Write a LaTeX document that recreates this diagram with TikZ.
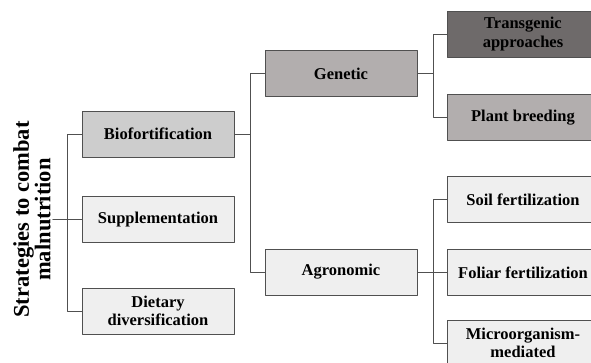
\documentclass[tikz,border=0pt]{standalone}
\usepackage{fontspec}
\setmainfont{Liberation Serif}

\definecolor{boxlight}{HTML}{EFEFEF}
\definecolor{boxmid}{HTML}{CDCDCD}
\definecolor{boxgray}{HTML}{B2AEAE}
\definecolor{boxdark}{HTML}{6E6A6A}
\definecolor{edge}{HTML}{505050}

\begin{document}
\begin{tikzpicture}[x=1pt, y=-1pt, line cap=round, line join=round,
  box/.style={draw=edge, line width=0.8pt, minimum width=152pt, minimum height=46pt,
    inner sep=2pt, align=center, font=\fontsize{16.5}{18.5}\selectfont\bfseries},
  link/.style={draw=edge, line width=0.8pt}]

\useasboundingbox (0,0) rectangle (591,363);

% Title on the left
\node[rotate=90, align=center, inner sep=2pt,
  font=\fontsize{22.5}{21.5}\selectfont\bfseries] (title) at (32,219.5)
  {Strategies to combat\\malnutrition};

% First level
\node[box, fill=boxmid] (bio) at (158,134) {Biofortification};
\node[box, fill=boxlight] (supp) at (158,219.5) {Supplementation};
\node[box, fill=boxlight] (diet) at (158,311) {Dietary\\diversification};

% Second level
\node[box, fill=boxgray] (gen) at (341,73.5) {Genetic};
\node[box, fill=boxlight] (agro) at (341,272) {Agronomic};

% Third level
\node[box, fill=boxdark] (trans) at (523,34) {Transgenic\\approaches};
\node[box, fill=boxgray] (plant) at (523,117.5) {Plant breeding};
\node[box, fill=boxlight] (soil) at (523,199.5) {Soil fertilization};
\node[box, fill=boxlight] (foliar) at (523,272.5) {Foliar fertilization};
\node[box, fill=boxlight] (micro) at (523,343) {Microorganism-\\mediated};

% Connectors
\coordinate (j1) at (67,219.5);
\draw[link] (title.south) -- (j1);
\draw[link] (j1) |- (bio.west);
\draw[link] (j1) |- (supp.west);
\draw[link] (j1) |- (diet.west);

\draw[link] (bio.east) -- ++(16,0) coordinate (j2);
\draw[link] (j2) |- (gen.west);
\draw[link] (j2) |- (agro.west);

\draw[link] (gen.east) -- ++(16,0) coordinate (j3);
\draw[link] (j3) |- (trans.west);
\draw[link] (j3) |- (plant.west);

\draw[link] (agro.east) -- ++(16,0) coordinate (j4);
\draw[link] (j4) |- (soil.west);
\draw[link] (j4) |- (foliar.west);
\draw[link] (j4) |- (micro.west);

\end{tikzpicture}
\end{document}
